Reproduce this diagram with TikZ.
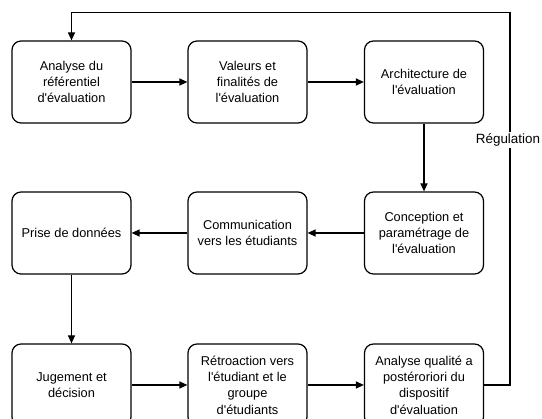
\documentclass[tikz,border=0pt]{standalone}
\usepackage{fontspec}
\newfontfamily\lsans{Liberation Sans}
\usetikzlibrary{arrows.meta}
\begin{document}
\begin{tikzpicture}[x=1pt,y=-1pt,
  stepbox/.style={draw=black,line width=1.2pt,rounded corners=9pt,
    minimum width=119pt,minimum height=82pt,align=center,inner sep=1pt,
    font=\lsans\fontsize{12.8}{16.3}\selectfont},
  conn/.style={line width=1.2pt,-{Triangle[length=8pt,width=7pt]}},
  lbl/.style={fill=white,inner sep=1.5pt,font=\lsans\fontsize{13.4}{15}\selectfont}]
\useasboundingbox (0,0) rectangle (542,419);
\begin{scope}
\clip (0,0) rectangle (542,419);
\node[stepbox] (a) at (71.5,82) {Analyse du\\référentiel\\d'évaluation};
\node[stepbox] (b) at (247.5,82) {Valeurs et\\finalités de\\l'évaluation};
\node[stepbox] (c) at (424,82) {Architecture de\\l'évaluation};
\node[stepbox] (d) at (424,233) {Conception et\\paramétrage de\\l'évaluation};
\node[stepbox] (e) at (247.5,233) {Communication\\vers les étudiants};
\node[stepbox] (f) at (71.5,233) {Prise de données};
\node[stepbox] (g) at (71.5,385) {Jugement et\\décision};
\node[stepbox] (h) at (247.5,385) {Rétroaction vers\\l'étudiant et le\\groupe\\d'étudiants};
\node[stepbox] (i) at (424,385) {Analyse qualité a\\postéroriori du\\dispositif\\d'évaluation};
\end{scope}
\draw[conn] (a) -- (b);
\draw[conn] (b) -- (c);
\draw[conn] (c) -- (d);
\draw[conn] (d) -- (e);
\draw[conn] (e) -- (f);
\draw[conn] (f) -- (g);
\draw[conn] (g) -- (h);
\draw[conn] (h) -- (i);
\coordinate (r1) at (510,385);
\coordinate (r2) at (510,12.8);
\coordinate (r3) at (71.5,12.8);
\draw[conn] (i.east) -- (r1) -- (r2) -- (r3) -- (a.north);
\node[lbl] (reg) at (508,140) {Régulation};
\end{tikzpicture}
\end{document}
